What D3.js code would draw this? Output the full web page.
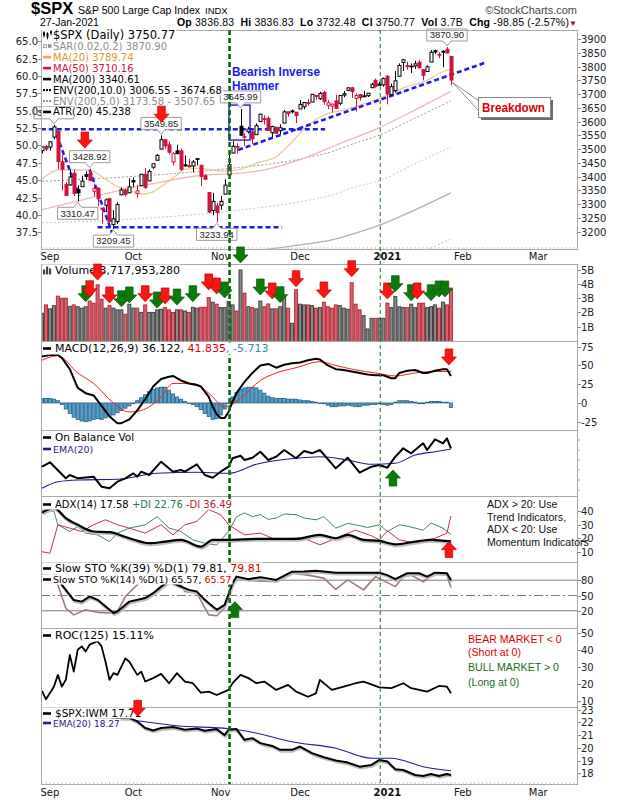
<!DOCTYPE html>
<html><head><meta charset="utf-8">
<script src="https://cdn.jsdelivr.net/npm/d3@7"></script>
<style>
html,body{margin:0;padding:0;background:#fff;}
svg{display:block;}
</style></head><body>
<svg id="c" width="620" height="800" font-family="'DejaVu Sans',Verdana,sans-serif"></svg>
<script>
// ================= DATA =================
const tradingDays = {
  "2020-08":[28,31],
  "2020-09":[1,2,3,4,8,9,10,11,14,15,16,17,18,21,22,23,24,25,28,29,30],
  "2020-10":[1,2,5,6,7,8,9,12,13,14,15,16,19,20,21,22,23,26,27,28,29,30],
  "2020-11":[2,3,4,5,6,9,10,11,12,13,16,17,18,19,20,23,24,25,27,30],
  "2020-12":[1,2,3,4,7,8,9,10,11,14,15,16,17,18,21,22,23,24,28,29,30,31],
  "2021-01":[4,5,6,7,8,11,12,13,14,15,19,20,21,22,25,26,27]
};
const dates = Object.entries(tradingDays).flatMap(([m,ds])=>ds.map(d=>m+"-"+String(d).padStart(2,"0")));

const prevClose0 = 3484.55;
const open = [3494.69,3509.73,3507.44,3543.76,3564.74,3453.60,3371.88,3369.82,3412.56,3352.70,
3363.56,3407.73,3411.23,3346.86,3357.38,3285.57,3295.75,3320.11,3226.14,3236.66,
3333.90,3350.92,3341.21,3385.87,3338.94,3367.27,3408.74,3384.56,3434.28,3459.67,
3500.02,3534.01,3515.47,3453.72,3493.50,3493.66,3439.38,3439.91,3438.50,3464.90,
3441.42,3403.15,3342.48,3277.17,3293.59,3296.20,3336.25,3406.46,3485.74,3508.34,
3583.04,3543.26,3563.22,3562.67,3552.57,3600.16,3610.31,3612.09,3559.41,3579.31,
3566.82,3594.52,3635.50,3638.55,3634.18,3645.87,3653.78,3668.28,3670.94,3694.73,
3683.05,3705.98,3659.13,3656.08,3675.27,3666.41,3696.25,3713.65,3722.39,3684.28,
3698.08,3693.42,3694.03,3723.03,3750.01,3736.19,3733.27,3764.61,3698.02,3712.20,
3764.71,3815.05,3803.14,3801.62,3802.23,3814.98,3788.73,3781.88,3816.22,3857.46,
3844.24,3851.68,3862.96,3836.83];
const high = [3509.23,3514.77,3528.03,3588.11,3564.85,3479.15,3379.97,3424.77,3425.55,3368.95,
3402.93,3419.48,3428.92,3375.17,3362.27,3285.57,3320.31,3323.35,3278.70,3306.88,
3360.74,3357.92,3393.56,3397.18,3369.10,3409.57,3431.56,3426.26,3447.28,3482.34,
3549.85,3534.01,3527.94,3489.08,3515.76,3502.42,3476.93,3464.86,3460.53,3466.46,
3441.42,3409.51,3342.48,3341.05,3304.93,3330.14,3389.49,3486.25,3529.05,3521.58,
3645.99,3557.22,3581.16,3569.02,3593.66,3628.51,3623.11,3619.09,3585.22,3581.23,
3589.81,3642.31,3635.50,3644.31,3634.18,3678.45,3670.96,3682.73,3699.20,3697.41,
3708.45,3712.39,3678.49,3665.91,3697.61,3695.29,3711.27,3725.12,3726.70,3702.90,
3698.26,3711.24,3703.82,3740.51,3756.12,3744.63,3760.20,3769.99,3737.83,3783.04,
3811.55,3826.69,3817.86,3810.78,3820.96,3823.60,3788.73,3804.53,3859.75,3861.45,
3852.31,3859.23,3870.90,3836.83];
const low = [3484.32,3493.25,3494.60,3535.23,3427.41,3349.63,3329.27,3366.84,3329.25,3310.47,
3363.56,3389.25,3384.45,3328.82,3292.40,3229.10,3270.95,3232.57,3209.45,3228.44,
3332.91,3327.54,3340.47,3361.39,3323.69,3367.27,3354.54,3384.56,3428.15,3458.07,
3499.61,3500.86,3480.55,3440.89,3480.45,3419.93,3435.65,3433.06,3415.34,3440.45,
3364.86,3388.71,3268.89,3259.82,3233.94,3279.74,3336.25,3405.17,3485.74,3484.34,
3547.48,3511.91,3557.00,3518.58,3552.57,3600.16,3588.68,3567.33,3543.84,3556.85,
3552.77,3594.52,3617.76,3629.33,3594.39,3645.87,3644.84,3657.17,3670.94,3678.88,
3678.83,3660.54,3645.18,3633.40,3645.84,3659.62,3688.57,3710.87,3685.84,3636.48,
3676.16,3689.28,3689.32,3723.03,3723.31,3730.21,3726.88,3662.71,3695.07,3705.34,
3764.71,3783.60,3789.02,3776.51,3791.50,3792.86,3749.62,3780.37,3816.22,3845.05,
3830.41,3797.16,3847.78,3732.48];
const close = [3508.01,3500.31,3526.65,3580.84,3455.06,3426.96,3331.84,3398.96,3339.19,3340.97,
3383.54,3401.20,3385.49,3357.01,3319.47,3281.06,3315.57,3236.92,3246.59,3298.46,
3351.60,3335.47,3363.00,3380.80,3348.42,3408.60,3360.97,3419.44,3446.83,3477.14,
3534.22,3511.93,3488.67,3483.34,3483.81,3426.92,3443.12,3435.56,3453.49,3465.39,
3400.97,3390.68,3271.03,3310.11,3269.96,3310.24,3369.16,3443.44,3510.45,3509.44,
3550.50,3545.53,3572.66,3537.01,3585.15,3626.91,3609.53,3567.79,3581.87,3557.54,
3577.59,3635.41,3629.65,3638.35,3621.63,3662.45,3669.01,3666.72,3699.12,3691.96,
3702.25,3672.82,3668.10,3663.46,3647.49,3694.62,3701.17,3722.48,3709.41,3694.92,
3687.26,3690.01,3703.06,3735.36,3727.04,3732.04,3756.07,3700.65,3726.86,3748.14,
3803.79,3824.68,3799.61,3801.19,3809.84,3795.54,3768.25,3798.91,3851.85,3853.07,
3841.47,3855.36,3849.62,3750.77];
// volume in billions of shares
const volume = [1.94,2.53,2.25,2.48,3.15,3.0,3.0,2.43,2.53,2.4,
2.3,2.4,2.8,2.65,3.95,2.93,2.3,2.48,2.3,2.18,
2.18,1.87,2.58,2.3,2.3,2.0,2.53,2.0,2.0,2.18,
2.22,2.34,2.18,2.0,2.18,2.18,2.1,2.0,2.36,2.3,
2.36,2.36,3.05,2.72,2.58,2.34,2.34,2.77,2.53,2.1,
5.0,3.36,2.4,2.34,2.25,2.8,2.4,2.6,2.25,2.25,
2.4,3.12,2.3,1.23,3.6,2.58,2.53,2.53,2.48,2.3,
2.34,2.72,2.4,2.3,2.53,2.48,2.3,2.22,4.1,2.58,
2.18,1.77,0.83,1.58,1.58,1.58,1.58,2.65,2.34,3.12,
2.4,2.34,2.34,2.58,2.34,2.65,2.65,2.34,2.4,2.53,
2.3,2.72,2.53,3.72];

// overlays [barIndex, value]
const ma20 = [[0,3390],[3,3420],[5,3425],[12,3424],[15,3400],[19,3364],[23,3345],[25,3337],[28,3345],[30,3364],[34,3406],[36,3427],[40,3430],[43,3424],[47,3420],[51,3432],[54,3449],[59,3472],[63,3527],[67,3587],[71,3624],[76,3642],[80,3660],[84,3678],[88,3704],[92,3727],[96,3744],[101,3781],[103,3790]];
const ma50 = [[0,3280],[10,3315],[20,3352],[30,3380],[40,3405],[47,3410],[55,3422],[65,3462],[75,3520],[85,3578],[95,3650],[103,3710]];
const ma200 = [[0,3078],[22,3090],[44,3115],[65,3152],[73,3170],[79,3195],[85,3224],[93,3273],[103,3341]];
const env10Up = [[0,3383],[22,3400],[44,3425],[65,3464],[73,3491],[79,3522],[85,3551],[93,3606],[103,3675]];
const env5Up = [[0,3232],[22,3245],[44,3270],[65,3309],[73,3333],[79,3363],[85,3385],[93,3440],[103,3508]];
const env5Lo = [[0,2926],[44,2960],[65,2995],[85,3063],[93,3109],[103,3174]];

const macdLine = [[0,62],[2,64],[4,64],[5,60],[7,45],[9,20],[11,13],[13,10],[15,-4],[17,-18],[19,-27],[20,-27],[22,-22],[24,-10],[26,5],[28,22],[30,32],[32,35],[33,36],[35,30],[37,26],[39,24],[40,22],[42,8],[43,-5],[44,-15],[45,-20],[46,-20],[47,-12],[48,2],[49,13],[51,28],[53,40],[55,50],[57,52],[59,47],[61,51],[63,53],[65,54],[67,57],[69,59],[70,58],[72,50],[74,45],[76,44],[78,42],[80,40],[82,38],[84,37],[86,37],[88,33],[89,33],[90,40],[92,43],[94,44],[96,40],[97,40],[99,43],[101,45],[102,45],[103,36]];
const macdSignal = [[0,57],[4,63],[9,40],[13,26],[18,0],[22,-12],[25,-10],[30,8],[33,26],[38,26],[42,13],[46,-5],[50,6],[55,30],[59,40],[64,47],[70,55],[74,50],[79,44],[84,40],[89,36],[94,40],[99,42],[103,42]];
const macdHist = [6,6,6,5,3,-2,-8,-14,-19,-22,-24,-25,-24,-22,-21,-22,-20,-18,-16,-13,
-10,-7,-4,-1,3,7,11,15,18,20,21,21,17,12,8,5,2,0,-2,-5,
-9,-14,-18,-22,-21,-16,-8,0,8,14,18,20,21,21,20,17,13,9,7,6,
6,6,5,5,5,4,3,3,2,1,0,-1,-3,-5,-5,-4,-4,-3,-4,-5,
-5,-3,-3,-2,-2,-1,-2,-3,-2,1,3,3,3,2,1,-1,-1,1,2,2,
2,1,1,-6];

const obv = [[0,29.3],[2,33.7],[6,17.7],[7,21],[9,17.7],[13,19.3],[15,9.3],[17,7.7],[19,14.3],[21,17.7],[23,22.7],[24,19.3],[25,24.3],[27,21],[30,34.3],[33,24.3],[35,26],[36,24.3],[39,31.7],[41,21],[43,18.3],[45,24.3],[47,29.3],[48,37.7],[50,40.3],[51,36],[53,38.3],[55,44.3],[57,36],[59,39.3],[61,46],[64,37.7],[66,45],[68,42.7],[70,46],[74,27.7],[77,38.3],[80,23.3],[83,29.3],[85,31],[87,28.3],[89,39.3],[91,47.7],[93,42.7],[96,52.7],[97,46],[99,56.7],[101,52.7],[102,57.7],[103,47.7]];
const obvEma = [[0,7.7],[4,14.3],[9,16],[19,16.7],[29,22.7],[39,23.7],[47,22.7],[54,31.7],[64,37.7],[70,39.3],[77,36],[83,31.7],[89,32.7],[94,41],[99,44.3],[103,47]];

const adx = [[0,39],[3,42.5],[6,35],[9,30],[13,25],[17,24.5],[22,20],[27,16.3],[31,17.5],[35,18.8],[40,13.7],[43,18.8],[47,18.8],[54,19.5],[64,19.5],[70,22.5],[74,20],[77,22.5],[81,18.8],[85,18],[89,15.5],[94,17.5],[98,18.8],[103,17.6]];
const plusDI = [[0,41],[3,40],[4,30],[7,25],[9,28.7],[11,23.8],[14,22.5],[17,17.5],[19,23.8],[22,27.5],[26,30],[29,36],[32,27.5],[35,25],[38,18.8],[41,16.3],[44,15],[47,25],[49,36],[51,38.8],[53,36],[55,37.5],[57,34],[59,35],[61,38],[64,37.5],[66,35],[69,33.7],[71,36],[74,27.5],[77,31],[79,30],[82,28],[85,30],[87,25],[90,30],[92,29],[94,27.5],[96,26],[98,31.3],[101,27.5],[103,22.8]];
const minusDI = [[0,10],[2,8.8],[4,30],[7,27.5],[10,25],[13,30],[16,33.7],[19,30],[22,27.5],[26,23.8],[30,30],[33,22.5],[36,30],[39,32.5],[42,41.3],[45,37.5],[47,30],[51,22.5],[55,23.8],[59,18.8],[63,20],[66,20],[70,15],[74,20],[79,26],[83,21.8],[85,18.8],[87,25.5],[90,18.8],[94,16.3],[99,20],[102,23.8],[103,36.5]];

const sto39 = [[0,92],[3,96],[5,71],[8,41],[10,38],[12,48],[14,41.5],[18,15.6],[19,18.7],[22,38],[26,45],[28,54.6],[30,67.4],[32,78],[34,71],[37,61],[39,57.7],[41,41.5],[44,22],[46,31.8],[48,74],[49,87],[52,82],[55,86],[59,80.5],[63,96.7],[66,97],[69,98.6],[74,94.7],[79,94.7],[85,94.7],[87,90],[89,82],[92,93.6],[95,93.6],[97,87],[99,94.7],[102,93.6],[103,79.8]];
const sto14 = [[0,92],[2,97],[4,71],[6,25],[8,12],[11,22],[14,17],[17,15.6],[19,18.7],[21,48],[24,71],[26,85],[28,92],[30,96],[32,90],[35,71],[36,57.7],[39,54.6],[42,12],[44,10.3],[46,25],[48,74],[49,84],[53,79],[59,77],[63,93.6],[67,90],[71,84],[74,62],[77,80.5],[81,61],[84,87],[89,67.4],[91,87],[93,90],[96,77],[99,93.6],[102,90],[103,65.6]];

const roc125 = [[0,16],[1,11],[3,18.4],[4,25.3],[5,18.4],[6,22.4],[7,37],[8,27.2],[9,40],[10,42],[11,39],[12,43],[13,44],[14,45],[15,42],[16,33],[17,22.4],[18,26.3],[19,25.3],[21,35],[22,33],[24,25.3],[25,27.2],[26,21.4],[28,23.4],[30,25.9],[32,20.4],[34,26.3],[36,21.4],[38,20.4],[40,14.9],[42,15.5],[44,13.5],[47,16.5],[48,20.4],[50,25.3],[52,23.4],[54,20.4],[56,21.4],[59,16.5],[62,19.4],[64,15.5],[67,12.5],[69,14.5],[70,22.4],[73,16.5],[76,18.4],[79,20.4],[81,21.4],[85,18],[88,17.5],[91,20.4],[93,17.5],[97,15.5],[100,18.8],[102,18.4],[103,14.5]];

const ratio = [[0,22.9],[5,22.8],[10,22.6],[15,22.5],[19,22.34],[22,22.34],[24,22.07],[26,21.55],[28,21.36],[30,21.55],[33,21.63],[36,21.42],[39,21.52],[41,21.34],[44,21.47],[46,21.0],[47,21.42],[49,21.47],[51,20.63],[53,20.76],[55,20.37],[58,20.15],[60,19.84],[63,19.84],[65,20.1],[68,19.58],[71,19.26],[74,19.0],[77,18.84],[80,18.52],[83,18.66],[85,19.05],[87,18.92],[89,18.32],[91,18.26],[94,17.87],[96,17.79],[98,17.95],[100,17.79],[102,17.95],[103,17.87]];
const ratioEma = [[0,22.45],[19,22.36],[24,22.13],[34,21.73],[47,21.5],[51,21.34],[64,20.42],[74,19.97],[83,19.18],[88,19.18],[96,18.52],[103,18.2]];

// axis tick labels
const priceTicks = d3.range(3200,3901,50);
const atrTicks = [37.5,40,42.5,45,47.5,50,52.5,55,57.5,60,62.5,65];
const volTicks = [1,2,3,4,5];
const macdTicks = [-25,0,25,50,75];
const adxTicks = [10,20,30,40];
const stoTicks = [20,50,80];
const rocTicks = [10,20,30,40,50];
const ratioTicks = [18,19,20,21,22,23];
const monthLabels = ["Sep","Oct","Nov","Dec","2021","Feb","Mar"];
const monthIdx = [2,23,45,65,87,106,125];

// annotations
const hiLoIdx = [3,12,9,18,30,44,50,102];
const hiLoKind = ["H","H","L","L","H","L","H","H"];
const volArrowIdx = [11,12,14,17,20,22,26,29,31,34,38,42,44,46,50,55,58,60,64,71,78,87,89,93,94.5,98,100,101.5];
const volArrowLvl = [2.76,3.11,4.29,2.67,2.4,2.67,2.76,2.31,2.6,2.52,2.76,3.59,3.3,3.02,5.5,3.23,2.95,2.69,3.82,3.02,4.53,2.95,3.47,2.83,2.95,2.83,3.09,3.09];
const volArrowCol = ["g","r","r","r","g","g","r","g","r","g","g","r","r","g","g","g","r","g","r","r","r","r","g","g","r","g","g","g"];

// ================= DRAW =================
const SANS='"Liberation Sans",Arial,sans-serif';
const RED='#d0143c', ARED='#ff1414', AGRN='#0b7a0b', NAVY='#1c1c96';
const svg=d3.select('#c');
svg.append('rect').attr('width',620).attr('height',800).attr('fill','#fff');
const L=41,R=577;
const P={main:[30,249],vol:[264,341],macd:[341,430],obv:[430,496],adx:[496,562],sto:[562,628],roc:[628,707],ratio:[707,784]};
const x=d3.scaleLinear().domain([0,134.76]).range([42,577]);
const yP=d3.scaleLinear().domain([3200,3900]).range([231.7,39]);
const yAtr=d3.scaleLinear().domain([37.5,65]).range([232.3,41.3]);
const yV=d3.scaleLinear().domain([0,5]).range([340.7,270]);
const yM=d3.scaleLinear().domain([-25,75]).range([421.7,346.7]);
const yO=d3.scaleLinear().domain([0,66]).range([496,430]);
const yA=d3.scaleLinear().domain([10,40]).range([551.7,511.3]);
const yS=d3.scaleLinear().domain([20,80]).range([610.8,580.2]);
const yR=d3.scaleLinear().domain([10,50]).range([701,632.7]);
const yQ=d3.scaleLinear().domain([18,23]).range([773.3,709.6]);
const defs=svg.append('defs');
function panel(name){
  const [t,b]=P[name];
  defs.append('clipPath').attr('id','cp-'+name).append('rect').attr('x',L).attr('y',t).attr('width',R-L).attr('height',b-t);
  return svg.append('g').attr('clip-path',`url(#cp-${name})`);
}
function pline(g,pts,ys,color,w,o={}){
  const ln=d3.line().x(d=>x(d[0])).y(d=>ys(d[1]));
  if(o.curve) ln.curve(d3.curveMonotoneX);
  if(o.shadow) g.append('path').attr('d',ln(pts)).attr('fill','none').attr('stroke','#bdbdbd').attr('stroke-width',w+0.5).attr('transform','translate(0.8,1.6)').attr('stroke-linejoin','round');
  g.append('path').attr('d',ln(pts)).attr('fill','none').attr('stroke',color).attr('stroke-width',w).attr('stroke-dasharray',o.dash||null).attr('stroke-linejoin','round');
}

// ---- main panel ----
const gMain=panel('main');
pline(gMain,env5Lo,yP,'#c4c4c4',1,{dash:'2,2',curve:1});
pline(gMain,ma200,yP,'#b0b0b0',1.2,{curve:1});
pline(gMain,env5Up,yP,'#c9c9c9',1,{dash:'2,2',curve:1});
pline(gMain,env10Up,yP,'#9a9a9a',1,{dash:'2,2',curve:1});
pline(gMain,ma50,yP,'#f2b6b6',1.3,{curve:1});
pline(gMain,ma20,yP,'#e9cb94',1.3,{curve:1});

const blue='#1b1bea';
const trend=[ [[-0.3,3572],[71.3,3572]], [[14,3216],[60.5,3216]], [[3,3578],[9.4,3330]], [[12,3425],[17.8,3190]], [[49.4,3497],[112,3816]] ];
trend.forEach(s=>{
  gMain.append('line').attr('x1',x(s[0][0])).attr('y1',yP(s[0][1])).attr('x2',x(s[1][0])).attr('y2',yP(s[1][1]))
   .attr('stroke',blue).attr('stroke-width',2.6).attr('stroke-dasharray','5,3');
});

dates.forEach((d,i)=>{
  const o=open[i],h=high[i],l=low[i],c=close[i],pc=i?close[i-1]:prevClose0;
  const col=c<pc?RED:'#000';
  const hollow=c>=o;
  const cx=Math.round(x(i))+0.5;
  gMain.append('line').attr('x1',cx).attr('x2',cx).attr('y1',yP(h)).attr('y2',yP(l)).attr('stroke',col).attr('stroke-width',1);
  const yt=yP(Math.max(o,c)), yb=yP(Math.min(o,c));
  gMain.append('rect').attr('x',cx-1.5).attr('y',yt).attr('width',3).attr('height',Math.max(0.8,yb-yt))
    .attr('fill',hollow?'#fff':col).attr('stroke',col).attr('stroke-width',1);
});

svg.append('rect').attr('x',x(47.1)).attr('y',yP(3660)).attr('width',x(52.4)-x(47.1)).attr('height',yP(3533)-yP(3660))
  .attr('fill','none').attr('stroke',blue).attr('stroke-width',1.4);

const lblG=svg.append('g');
hiLoIdx.forEach((i,k)=>{
  const isH=hiLoKind[k]==='H';
  const v=isH?high[i]:low[i];
  const cx=x(i), py=yP(v);
  const t=lblG.append('text').attr('font-size',9.5).attr('text-anchor','middle').attr('fill','#222')
    .attr('font-family',SANS).text(v.toFixed(2));
  const w=t.node().getComputedTextLength()+6, h=12;
  let d, top;
  if(isH){ const tip=py-1, bot=tip-5; top=bot-h;
    d=`M${cx-w/2},${top}H${cx+w/2}V${bot}H${cx+4}L${cx},${tip}L${cx-4},${bot}H${cx-w/2}Z`;
  } else { const tip=py+1; top=tip+5; const bot=top+h;
    d=`M${cx-w/2},${top}H${cx-4}L${cx},${tip}L${cx+4},${top}H${cx+w/2}V${bot}H${cx-w/2}Z`;
  }
  lblG.insert('path',()=>t.node()).attr('d',d).attr('fill','#fff').attr('stroke','#9a9a9a').attr('stroke-width',1);
  t.attr('x',cx).attr('y',top+h/2+3.4);
});

// ---- volume ----
const gVol=panel('vol');
volume.forEach((v,i)=>{
  const pc=i?close[i-1]:prevClose0, dn=close[i]<pc;
  gVol.append('rect').attr('x',x(i)-1.5).attr('y',yV(v)).attr('width',3).attr('height',yV(0)-yV(v)+1)
    .attr('fill',dn?'#d2686e':'#8a8a8a').attr('stroke',dn?'#b8283a':'#404040').attr('stroke-width',1);
});

// ---- MACD ----
const gM=panel('macd');
macdHist.forEach((v,i)=>{
  const y0=yM(0), y1=yM(v);
  gM.append('rect').attr('x',x(i)-1.6).attr('y',Math.min(y0,y1)).attr('width',3.2).attr('height',Math.max(0.6,Math.abs(y1-y0)))
    .attr('fill','#56a3cf').attr('stroke','#245f80').attr('stroke-width',0.8);
});
pline(gM,macdSignal,yM,'#ff1a1a',1,{curve:1});
pline(gM,macdLine,yM,'#000',2);

// ---- OBV ----
const gO=panel('obv');
pline(gO,obvEma,yO,NAVY,1.1,{curve:1});
pline(gO,obv,yO,'#000',2);

// ---- ADX ----
const gA=panel('adx');
pline(gA,plusDI,yA,'#3a8a5c',1);
pline(gA,minusDI,yA,'#c0304c',1);
pline(gA,adx,yA,'#000',2.2,{shadow:1,curve:1});

// ---- STO ----
const gS=panel('sto');
[[80,null],[50,'9,3,2,3'],[20,null]].forEach(([v,da])=>{
  gS.append('line').attr('x1',L).attr('x2',R).attr('y1',yS(v)).attr('y2',yS(v)).attr('stroke','#7a7a7a').attr('stroke-width',1).attr('stroke-dasharray',da);
});
pline(gS,sto14,yS,'#a07a7a',1.6);
pline(gS,sto39,yS,'#000',2,{shadow:1});

// ---- ROC ----
const gR=panel('roc');
pline(gR,roc125,yR,'#000',1.8);

// ---- Ratio ----
const gQ=panel('ratio');
pline(gQ,ratioEma,yQ,NAVY,1.1,{curve:1});
pline(gQ,ratio,yQ,'#000',2,{shadow:1});

// ---- panel borders ----
Object.entries(P).forEach(([k,[t,b]])=>{
  svg.append('rect').attr('x',L+0.5).attr('y',t+0.5).attr('width',R-L).attr('height',b-t).attr('fill','none').attr('stroke','#a8a8a8').attr('stroke-width',1);
});

// ---- axes ----
const ax=svg.append('g').attr('font-size',10).attr('fill','#222');
function rAxis(vals,ys,fmt){
  vals.forEach(v=>{
    const yy=Math.round(ys(v))+0.5;
    ax.append('line').attr('x1',R+1).attr('x2',R+4).attr('y1',yy).attr('y2',yy).attr('stroke','#888');
    ax.append('text').attr('x',581).attr('y',yy+3.6).text(fmt?fmt(v):v);
  });
}
rAxis(priceTicks,yP);
rAxis(volTicks,yV,v=>v+'B');
rAxis(macdTicks,yM);
rAxis(adxTicks,yA);
rAxis(stoTicks,yS);
rAxis(rocTicks,yR);
rAxis(ratioTicks,yQ);
[440,450,460,470,480,490].forEach(yy=>ax.append('line').attr('x1',R+1).attr('x2',R+3).attr('y1',yy).attr('y2',yy).attr('stroke','#aaa'));
atrTicks.forEach(v=>{
  const yy=Math.round(yAtr(v))+0.5;
  ax.append('line').attr('x1',L-3).attr('x2',L).attr('y1',yy).attr('y2',yy).attr('stroke','#888');
  ax.append('text').attr('x',38).attr('y',yy+3.6).attr('text-anchor','end').text(v.toFixed(1));
});
[P.main[1],P.ratio[1]].forEach(yb=>{
  d3.range(0,135).forEach(i=>{
    ax.append('line').attr('x1',x(i)).attr('x2',x(i)).attr('y1',yb-2).attr('y2',yb+1).attr('stroke','#bbb').attr('stroke-width',0.8);
  });
});
[260,796].forEach(yy=>{
  monthLabels.forEach((m,k)=>{
    ax.append('text').attr('x',x(monthIdx[k])).attr('y',yy).attr('text-anchor','middle')
      .attr('font-weight',m==='2021'?'bold':'normal').attr('fill','#111').text(m);
  });
});

// ---- event lines ----
[[47.25,2.6,'#0d6b0d','5,3'],[85.2,1,'#1f6f1f','4,3']].forEach(([i,w,c,da])=>{
  svg.append('line').attr('x1',x(i)).attr('x2',x(i)).attr('y1',30).attr('y2',784).attr('stroke',c).attr('stroke-width',w).attr('stroke-dasharray',da);
});

// ---- legends ----
function icon(g,type,x0,yc,c){
  if(type==='line'){ g.append('line').attr('x1',x0).attr('x2',x0+8).attr('y1',yc).attr('y2',yc).attr('stroke',c).attr('stroke-width',2.6); }
  else if(type==='dots'){ [0,3,6].forEach(d=>g.append('rect').attr('x',x0+d).attr('y',yc-1).attr('width',2).attr('height',2).attr('fill',c)); }
  else if(type==='sar'){ g.append('rect').attr('x',x0+0.5).attr('y',yc-1.5).attr('width',3).attr('height',3).attr('fill','#fff').attr('stroke','#8c8c8c').attr('stroke-width',0.8);
    g.append('rect').attr('x',x0+5).attr('y',yc-2).attr('width',3.5).attr('height',3.5).attr('fill','#8c8c8c'); }
  else if(type==='candle'){ [[1,-4,3],[4.5,-3,4],[8,-5,2]].forEach(([dx,dy,h])=>{ g.append('line').attr('x1',x0+dx).attr('x2',x0+dx).attr('y1',yc+dy).attr('y2',yc+dy+h+3).attr('stroke','#000'); g.append('rect').attr('x',x0+dx-1).attr('y',yc+dy+1).attr('width',2).attr('height',h).attr('fill','#000');}); }
  else if(type==='vol'){ [[0,5],[3,8],[6,6]].forEach(([dx,h])=>g.append('rect').attr('x',x0+dx).attr('y',yc+4-h).attr('width',2.2).attr('height',h).attr('fill','#444')); }
}
function legendRow(y,type,ic,parts,fs=10,x0=43,tx=10){
  const g=svg.append('g');
  const bg=g.append('rect').attr('fill','#fff');
  icon(g,type,x0,y-3.5,ic);
  const t=g.append('text').attr('x',x0+tx).attr('y',y).attr('font-size',fs).style('white-space','pre');
  parts.forEach(([s,c])=>t.append('tspan').attr('fill',c).text(s));
  const bb=t.node().getBBox();
  bg.attr('x',x0-1).attr('y',bb.y+0.5).attr('width',bb.x+bb.width-x0+2).attr('height',bb.height-1);
}
const last=close.length-1;
const mainLeg=[
  ['candle','#000',[['$SPX (Daily) '+close[last].toFixed(2),'#000']],11.5],
  ['sar','#8c8c8c',[['SAR(0.02,0.2) 3870.90','#8c8c8c']],10],
  ['line','#e0ad55',[['MA(20) 3789.74','#d99a2b']],10],
  ['line','#d1123f',[['MA(50) 3710.16','#d1123f']],10],
  ['line','#000',[['MA(200) 3340.61','#000']],10],
  ['dots','#000',[['ENV(200,10.0) 3006.55 - 3674.68','#000']],10],
  ['dots','#9a9a9a',[['ENV(200,5.0) 3173.58 - 3507.65','#8c8c8c']],10],
  ['line','#000',[['ATR(20) 45.238','#000']],10]
];
mainLeg.forEach((r,k)=>legendRow(38.8+k*10.95,r[0],r[1],r[2],r[3]));
legendRow(274,'vol','#444',[['Volume 3,717,953,280','#000']],11,43,12);
legendRow(352,'line','#000',[['MACD(12,26,9) 36.122,','#000'],[' 41.835','#e00000'],[', -5.713','#3a8ab4']],11,43,12);
legendRow(441,'line','#000',[['On Balance Vol','#000']],10.5,43,12);
legendRow(452.5,'line',NAVY,[['EMA(20)',NAVY]],9.5,43,10);
legendRow(508,'line','#000',[['ADX(14) 17.58 ','#000'],['+DI 22.76 ','#2a7a4a'],['-DI 36.49','#b3203f']],10,43,12);
legendRow(572,'line','#000',[['Slow STO %K(39) %D(1) 79.81,','#000'],[' 79.81','#e00000']],11,43,12);
legendRow(583,'line','#000',[['Slow STO %K(14) %D(1) 65.57,','#000'],[' 65.57','#e00000']],9.5,43,10);
legendRow(639,'line','#000',[['ROC(125) 15.11%','#000']],11,43,12);
legendRow(717,'line','#000',[['$SPX:IWM 17.71','#000']],10.5,43,12);
legendRow(726.5,'line',NAVY,[['EMA(20) 18.27',NAVY]],9,43,10);

// ---- header ----
const hdr=svg.append('g');
const tt=hdr.append('text').attr('x',31).attr('y',14).attr('font-family',SANS).attr('font-size',16.5).attr('font-weight','bold').text('$SPX');
hdr.append('text').attr('x',78).attr('y',14).attr('font-family',SANS).attr('font-size',10.8).attr('textLength',122).attr('lengthAdjust','spacingAndGlyphs').text('S&P 500 Large Cap Index');
hdr.append('text').attr('x',205).attr('y',14).attr('font-family',SANS).attr('font-size',9.5).text('INDX');
hdr.append('text').attr('x',577).attr('y',14).attr('text-anchor','end').attr('font-family',SANS).attr('font-size',11).attr('fill','#444').text('©StockCharts.com');
hdr.append('text').attr('x',40).attr('y',26).attr('font-family',SANS).attr('font-size',10.5).text('27-Jan-2021');
const t2=hdr.append('text').attr('x',177).attr('y',26).attr('font-family',SANS).attr('font-size',10.5).style('white-space','pre')
  .attr('textLength',400).attr('lengthAdjust','spacing');
[['Op',1],[' 3836.83  ',0],['Hi',1],[' 3836.83  ',0],['Lo',1],[' 3732.48  ',0],['Cl',1],[' 3750.77  ',0],['Vol',1],[' 3.7B  ',0],['Chg',1],[' -98.85 (-2.57%)',0],['\u25BC',2]]
  .forEach(([s,b])=>t2.append('tspan').attr('font-weight',b===1?'bold':'normal').attr('fill',b===2?'#8b1030':'#000').attr('font-size',b===2?8:null).text(s));

// ---- annotation texts ----
const an=svg.append('g');
an.append('text').attr('x',232).attr('y',76).attr('font-family',SANS).attr('font-size',12.5).attr('font-weight','bold').attr('fill',blue).attr('textLength',88).attr('lengthAdjust','spacingAndGlyphs').text('Bearish Inverse');
an.append('text').attr('x',232).attr('y',90).attr('font-family',SANS).attr('font-size',12.5).attr('font-weight','bold').attr('fill',blue).attr('textLength',47).attr('lengthAdjust','spacingAndGlyphs').text('Hammer');
an.append('path').attr('d','M452,82L479,101L479,111Z').attr('fill','#fff').attr('stroke','#8a8a8a').attr('stroke-width',1);
an.append('rect').attr('x',481).attr('y',100).attr('width',72).attr('height',20).attr('fill','#6a6a6a');
an.append('rect').attr('x',478.5).attr('y',97.5).attr('width',72).attr('height',20).attr('fill','#fff').attr('stroke','#8a8a8a');
an.append('text').attr('x',482).attr('y',112).attr('font-family',SANS).attr('font-size',12.5).attr('font-weight','bold').attr('fill','#e00000').attr('textLength',63).attr('lengthAdjust','spacingAndGlyphs').text('Breakdown');
['ADX > 20: Use','Trend Indicators,','ADX < 20: Use','Momentum Indicators'].forEach((s,k)=>
  an.append('text').attr('x',487).attr('y',508+k*12.7).attr('font-family',SANS).attr('font-size',10.6).attr('fill','#111').text(s));
[['BEAR MARKET < 0',643,'#e00000'],['(Short at 0)',656,'#e00000'],['BULL MARKET > 0',671,'#1a6e1a'],['(Long at 0)',686,'#1a6e1a']].forEach(([s,y,c])=>
  an.append('text').attr('x',468).attr('y',y).attr('font-family',SANS).attr('font-size',10.6).attr('fill',c).text(s));

// ---- arrows ----
function arrow(cx,tip,dir,col){
  const s=dir==='down'?1:-1, hw=7.5, sw=3.8, hh=8, Lg=16;
  const d=`M${cx},${tip}L${cx-hw},${tip-s*hh}L${cx-sw},${tip-s*hh}L${cx-sw},${tip-s*Lg}L${cx+sw},${tip-s*Lg}L${cx+sw},${tip-s*hh}L${cx+hw},${tip-s*hh}Z`;
  svg.append('path').attr('d',d).attr('fill',col==='r'?ARED:AGRN).attr('stroke',col==='r'?'#c00000':'#055a05').attr('stroke-width',0.7);
}
volArrowIdx.forEach((i,k)=>arrow(x(i),yV(volArrowLvl[k]),'down',volArrowCol[k]));
arrow(x(10.8),yP(3504),'down','r');
arrow(x(30.1),yP(3598),'down','r');
arrow(x(102.5),yM(50.7),'down','r');
arrow(x(88.4),yO(26),'up','g');
arrow(x(102.5),yA(17.5),'up','r');
arrow(x(48.6),yS(38),'up','g');
arrow(x(24.1),yQ(22.47),'down','r');
</script></body></html>
